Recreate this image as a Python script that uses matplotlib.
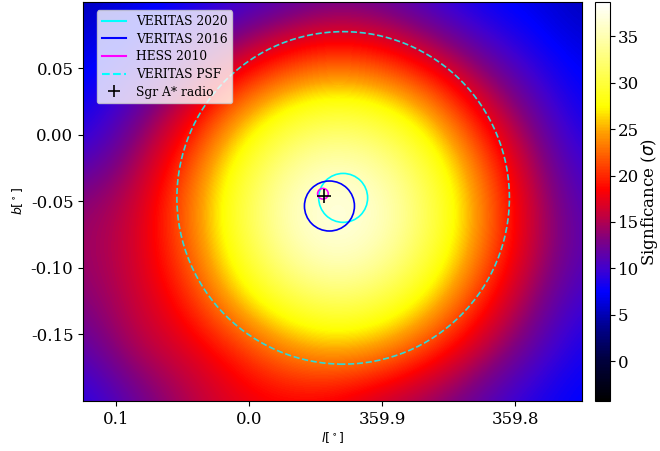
import numpy as np
import matplotlib.pyplot as plt
from matplotlib.colors import LinearSegmentedColormap
from matplotlib.patches import Circle
from matplotlib.lines import Line2D

plt.rcParams['font.family'] = 'serif'
plt.rcParams['axes.unicode_minus'] = False

# significance on a 0.0375 deg grid
# rows: b = 0.10 ... -0.20 (top to bottom), cols: l = 0.125 ... -0.25 (left to right)
sig_map = [
    [5.0, 6.5, 7.5, 9.0, 10.5, 12.0, 11.5, 9.5, 7.5, 6.5, 5.0],
    [6.5, 8.0, 10.8, 14.5, 18.3, 20.3, 19.0, 15.5, 11.5, 8.5, 6.5],
    [7.5, 10.9, 15.4, 22.1, 26.9, 28.8, 27.7, 23.6, 16.7, 11.4, 7.5],
    [9.5, 13.6, 19.7, 27.3, 32.6, 34.8, 33.4, 28.8, 21.6, 14.1, 9.0],
    [13.5, 15.7, 22.0, 29.6, 35.2, 38.1, 36.2, 31.2, 23.9, 15.8, 10.5],
    [14.0, 16.2, 21.3, 28.8, 34.3, 36.9, 35.2, 30.4, 23.2, 15.6, 11.0],
    [13.0, 15.8, 19.1, 25.2, 30.0, 32.1, 30.8, 26.5, 19.7, 13.7, 9.5],
    [11.0, 14.9, 16.6, 19.4, 23.3, 25.2, 24.0, 20.1, 15.4, 11.4, 8.0],
    [8.5, 11.5, 14.5, 17.0, 18.0, 17.5, 15.5, 13.5, 11.0, 8.5, 7.0],
]
l_first, l_last = 0.125, -0.25
b_first, b_last = 0.10, -0.20
sig_min, sig_max = -4.3, 38.7

# source positions (l in deg, 359.9 -> -0.1), radii in deg
veritas2020 = (-0.0705, -0.0473, 0.0184)
veritas2016 = (-0.0602, -0.0534, 0.0188)
hess2010 = (-0.0553, -0.0442, 0.0040)
psf_radius = 0.125
sgra = (-0.0558, -0.0462)

xtick_vals = [0.1, 0.0, -0.1, -0.2]
xtick_labels = ['0.1', '0.0', '359.9', '359.8']
ytick_vals = [0.05, 0.0, -0.05, -0.10, -0.15]
ytick_labels = ['0.05', '0.00', '-0.05', '-0.10', '-0.15']
cbar_ticks = [0, 5, 10, 15, 20, 25, 30, 35]

# colour map: black - navy - blue - purple - red - orange - yellow - white
cm_vals = [-4.3, 0.2, 3.75, 7.4, 9.9, 13.1, 15.6, 18.5, 24.7, 27.5, 35.0, 38.7]
cm_cols = ['#000000', '#000040', '#000090', '#0000ff', '#4000d0', '#800080',
           '#c00040', '#ff0000', '#ffa000', '#ffff00', '#ffffb0', '#ffffff']
pos = [(v - sig_min) / (sig_max - sig_min) for v in cm_vals]
cmap = LinearSegmentedColormap.from_list('sig', list(zip(pos, cm_cols)))

fig = plt.figure(figsize=(6.6, 4.51), dpi=100)
ax = fig.add_axes([0.1258, 0.1109, 0.756, 0.8847])
cax = fig.add_axes([0.901, 0.1109, 0.023, 0.8847])

data = np.array(sig_map)
ny, nx = data.shape
dl = (l_first - l_last) / (nx - 1)
db = (b_first - b_last) / (ny - 1)
extent = (l_first + dl / 2, l_last - dl / 2, b_last - db / 2, b_first + db / 2)
im = ax.imshow(data, cmap=cmap, vmin=sig_min, vmax=sig_max, extent=extent,
               origin='upper', interpolation='bicubic', aspect='equal')

ax.add_patch(Circle(veritas2020[:2], veritas2020[2], fill=False, color='cyan', lw=1.2))
ax.add_patch(Circle(veritas2016[:2], veritas2016[2], fill=False, color='blue', lw=1.2))
ax.add_patch(Circle(hess2010[:2], hess2010[2], fill=False, color='magenta', lw=1.2))
ax.add_patch(Circle(veritas2020[:2], psf_radius, fill=False, color='#30d8d8', lw=1.2, ls='--'))
ax.plot(*sgra, marker='+', color='black', ms=10, mew=1.2, ls='none')

ax.set_xlim(l_first, l_last)
ax.set_ylim(b_last, b_first)
ax.set_xticks(xtick_vals)
ax.set_xticklabels(xtick_labels)
ax.set_yticks(ytick_vals)
ax.set_yticklabels(ytick_labels)
ax.tick_params(labelsize=12)
ax.set_xlabel(r'$l[^\circ]$', fontsize=9, labelpad=2)
ax.set_ylabel(r'$b[^\circ]$', fontsize=9)

handles = [
    Line2D([], [], color='cyan', lw=1.5),
    Line2D([], [], color='blue', lw=1.5),
    Line2D([], [], color='magenta', lw=1.5),
    Line2D([], [], color='cyan', lw=1.5, ls='--'),
    Line2D([], [], color='black', marker='+', ms=9, mew=1.2, ls='none'),
]
labels = ['VERITAS 2020', 'VERITAS 2016', 'HESS 2010', 'VERITAS PSF', 'Sgr A* radio']
ax.legend(handles, labels, loc='upper left', fontsize=8.8, labelspacing=0.38,
          bbox_to_anchor=(0.015, 0.995))

cb = fig.colorbar(im, cax=cax, ticks=cbar_ticks)
cb.ax.tick_params(labelsize=12, pad=2)
cb.set_label(r'Signficance ($\sigma$)', fontsize=12, labelpad=0)

fig.savefig('out.png', dpi=100)
